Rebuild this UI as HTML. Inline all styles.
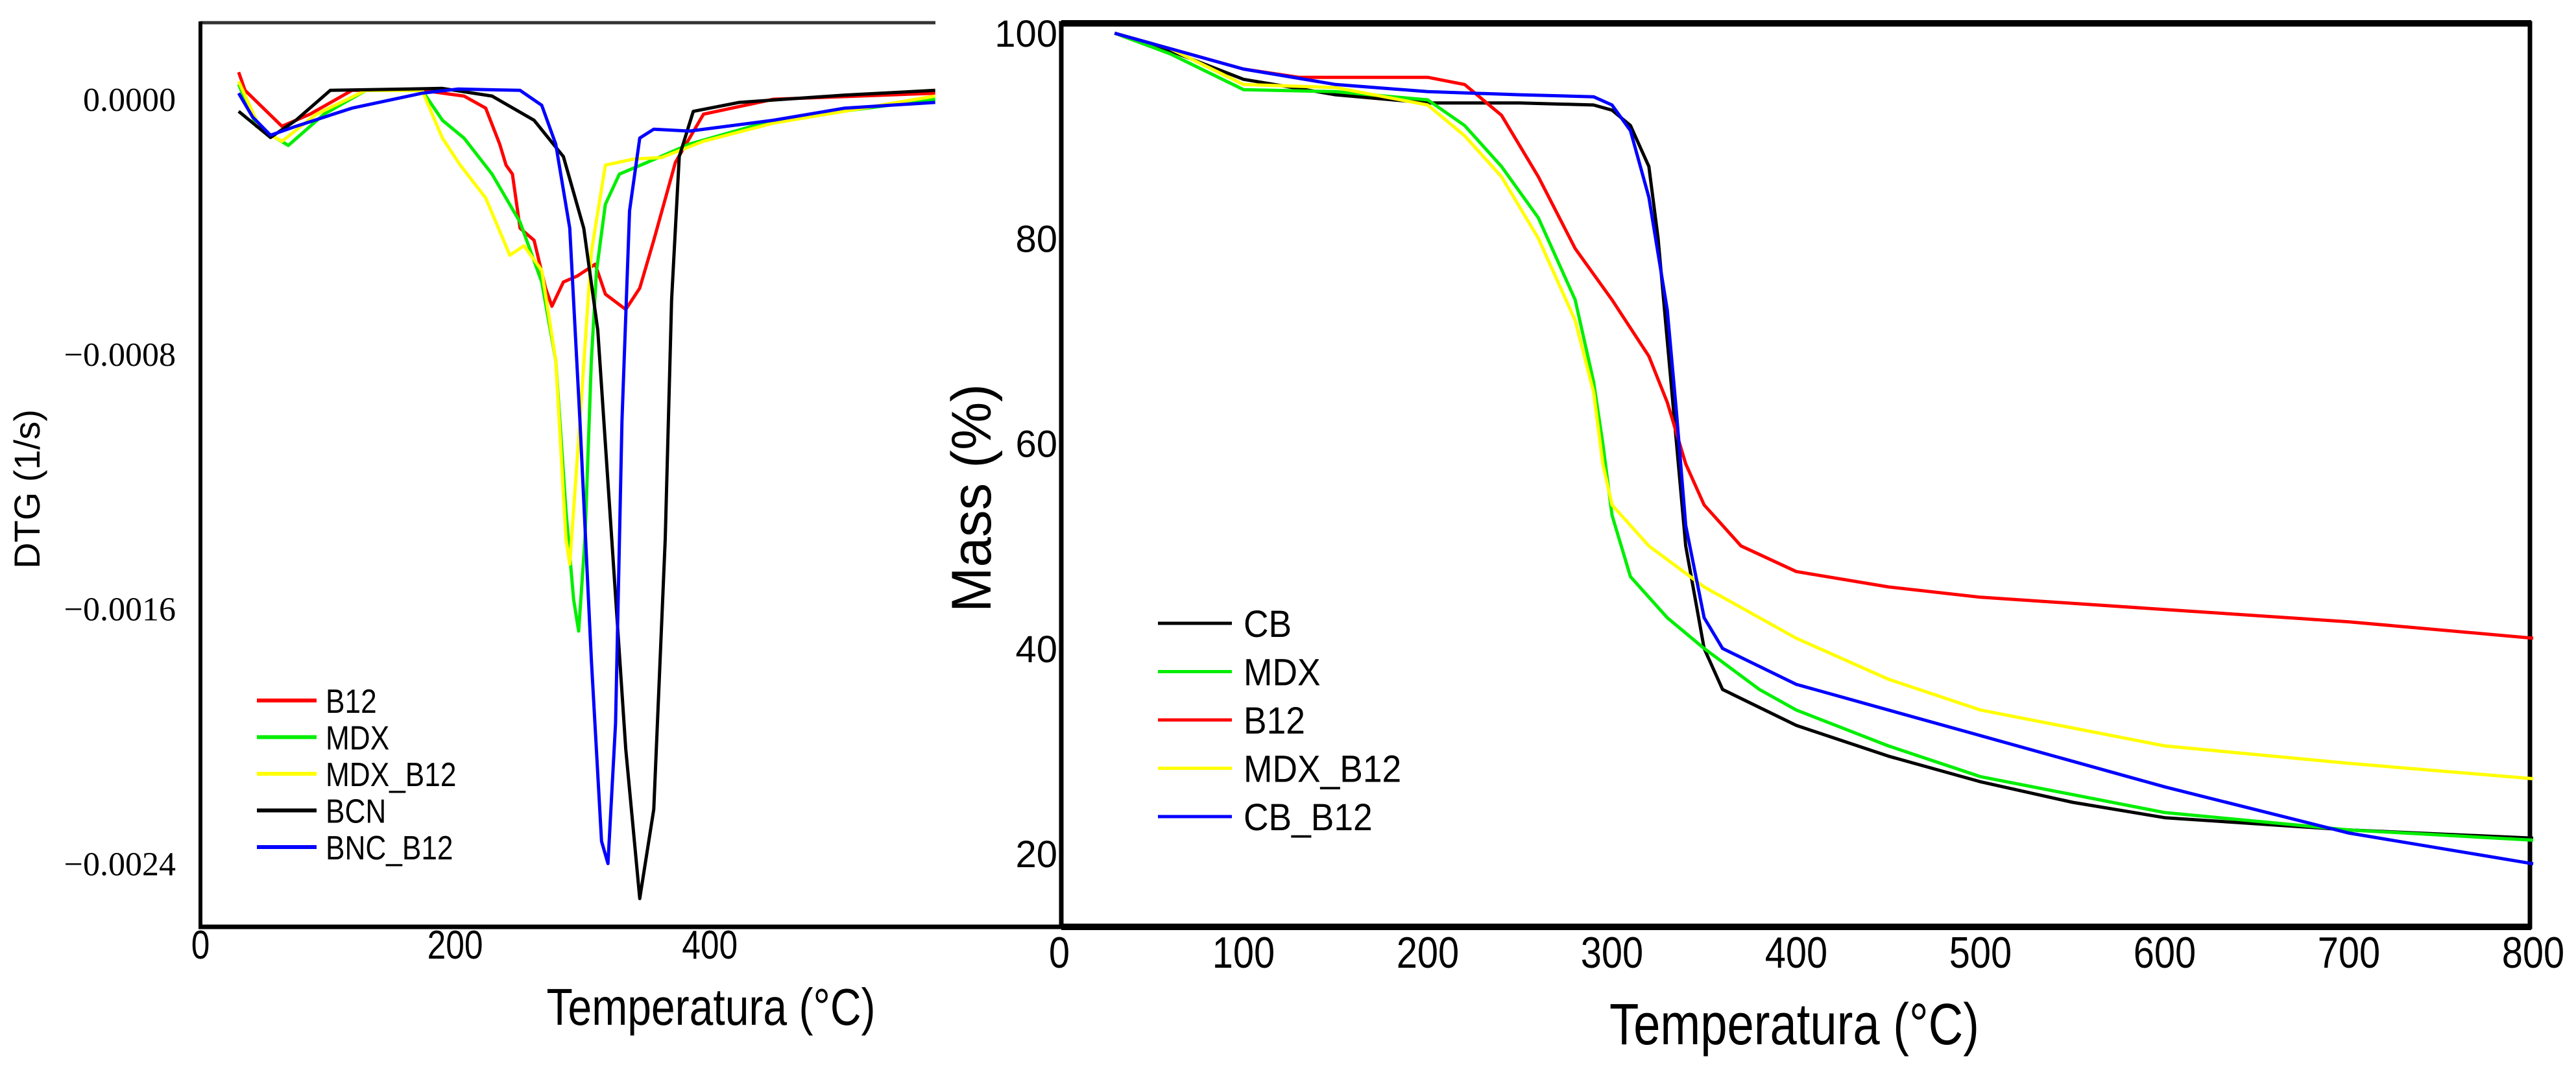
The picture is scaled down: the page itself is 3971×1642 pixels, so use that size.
<!DOCTYPE html>
<html><head><meta charset="utf-8"><style>
html,body{margin:0;padding:0;background:#fff;}
svg{display:block;}
text{font-family:"Liberation Sans",sans-serif;fill:#000;}
</style></head><body>
<svg id="chart" width="3971" height="1642" viewBox="0 0 3971 1642" xmlns="http://www.w3.org/2000/svg">
<rect x="0" y="0" width="3971" height="1642" fill="#fff"/>
<g id="left"></g>
<g id="right"></g>
</svg>
<script>
// ---------- DTG panel data (DTG values in units of 1e-4 1/s) ----------
const dtgTicksX = [0, 200, 400];
const dtgTicksY = [0, -8, -16, -24];
const dtgTickLabels = ["0.0000", "\u22120.0008", "\u22120.0016", "\u22120.0024"];
const dtgNames = ["B12", "MDX", "MDX_B12", "BCN", "BNC_B12"];
const dtgColors = ["#ff0000", "#00ee00", "#ffff00", "#000000", "#0000ff"];
const dtgB12T = [30,35,64,86,119,174,207,224,235,240,245,251,262,271,276,285,296,310,318,334,345,356,373,395,450,577];
const dtgB12V = [0.85,0.28,-0.85,-0.47,0.28,0.28,0.1,-0.28,-1.41,-2.07,-2.35,-4.05,-4.43,-5.93,-6.5,-5.74,-5.55,-5.18,-6.12,-6.6,-5.93,-4.43,-1.98,-0.47,0,0.19];
const dtgMdxT = [30,44,69,97,130,174,190,207,229,251,268,279,287,293,297,302,307,311,318,329,351,384,450,577];
const dtgMdxV = [0.47,-0.85,-1.45,-0.47,0.28,0.28,-0.66,-1.22,-2.35,-3.86,-5.74,-8.2,-12.9,-15.7,-16.7,-13.8,-8.2,-5.4,-3.3,-2.35,-1.98,-1.41,-0.66,0];
const dtgMdxB12T = [30,47,64,91,130,174,190,204,224,243,254,268,279,287,290,298,307,318,340,362,395,450,577];
const dtgMdxB12V = [0.56,-0.94,-1.32,-0.47,0.28,0.28,-1.22,-2.07,-3.1,-4.9,-4.6,-5.37,-8.2,-13.8,-14.6,-10.1,-4.8,-2.07,-1.88,-1.83,-1.32,-0.75,0.1];
const dtgBcnT = [30,55,75,102,190,229,262,285,301,312,323,334,345,356,365,370,376,387,423,506,577];
const dtgBcnV = [-0.38,-1.2,-0.66,0.28,0.34,0.1,-0.66,-1.8,-4.05,-7.25,-13.8,-20.4,-25.1,-22.3,-13.8,-6.3,-1.8,-0.38,-0.1,0.13,0.28];
const dtgBncB12T = [30,41,55,75,119,174,202,251,268,279,290,298,307,315,320,326,331,337,345,356,384,450,506,577];
const dtgBncB12V = [0.19,-0.56,-1.13,-0.85,-0.28,0.19,0.32,0.28,-0.19,-1.41,-4.05,-10.1,-17.6,-23.3,-24.0,-19.6,-10.1,-3.5,-1.22,-0.94,-1.0,-0.66,-0.28,-0.1];

// ---------- Mass panel data ----------
const massTicksX = [0,100,200,300,400,500,600,700,800];
const massTicksY = [20,40,60,80,100];
const massNames = ["CB","MDX","B12","MDX_B12","CB_B12"];
const massColors = ["#000000","#00ee00","#ff0000","#ffff00","#0000ff"];
const massCbT = [30,50,100,150,200,250,290,300,310,320,325,330,335,340,350,360,400,450,500,550,600,700,800];
const massCbV = [100,99,95.5,94,93.2,93.2,93,92.5,91,87,80,70,60,50,40,36,32.5,29.5,27,25,23.5,22.3,21.5];
const massMdxT = [30,60,100,150,200,220,240,260,280,290,295,300,310,330,350,380,400,450,500,600,700,800];
const massMdxV = [100,98,94.5,94.3,93.5,91,87,82,74,66,60,53,47,43,40,36,34,30.5,27.5,24,22.3,21.3];
const massB12T = [30,60,100,130,200,220,240,260,280,300,320,330,340,350,370,400,450,500,600,700,800];
const massB12V = [100,98.5,96.5,95.7,95.7,95,92,86,79,74,68.5,64,58,54,50,47.5,46,45,43.8,42.6,41];
const massMdxB12T = [30,60,100,150,200,220,240,260,280,290,295,300,320,350,400,450,500,600,700,800];
const massMdxB12V = [100,98.5,95,94.7,93,90,86,80,72,65,58,54,50,46,41,37,34,30.5,28.8,27.3];
const massCbB12T = [30,100,150,200,250,290,300,310,320,330,335,340,350,360,400,450,500,600,700,800];
const massCbB12V = [100,96.5,95,94.3,94,93.8,93,90.5,84,73,63,52,43,40,36.5,34,31.5,26.5,22,19];

const NS = "http://www.w3.org/2000/svg";
function mk(parent, tag, attrs, txt) {
  const e = document.createElementNS(NS, tag);
  for (const k in attrs) e.setAttribute(k, attrs[k]);
  if (txt !== undefined) e.textContent = txt;
  parent.appendChild(e);
  return e;
}
function squeeze(t, f) {
  const w = t.getComputedTextLength();
  t.setAttribute('textLength', (w * f).toFixed(1));
  t.setAttribute('lengthAdjust', 'spacingAndGlyphs');
}

// ---------- LEFT PANEL ----------
const L = document.getElementById('left');
const lx = t => 309 + t * 1.963;
const ly = v => 153 - v * 49.1;

let e;
e = mk(L, 'line', {x1:309, y1:35, x2:1442, y2:35, stroke:'#333', 'stroke-width':5});


e = mk(L, 'line', {x1:309, y1:33, x2:309, y2:1432, stroke:'#000', 'stroke-width':6});


e = mk(L, 'line', {x1:306, y1:1429, x2:1640, y2:1429, stroke:'#000', 'stroke-width':7});



dtgTicksX.forEach(t => {
  const tx = mk(L, 'text', {x: lx(t), y: 1478, 'font-size': 62, 'text-anchor': 'middle'}, String(t));
  
  
  squeeze(tx, 0.83);
});
dtgTicksY.forEach((v, i) => {
  const tx = mk(L, 'text', {x: 271, y: ly(v) + 18, 'font-size': 52, 'text-anchor': 'end', style: 'font-family:"Liberation Serif",serif'}, dtgTickLabels[i]);
  
  
});
e = mk(L, 'text', {x: 1096, y: 1580, 'font-size': 80, 'text-anchor': 'middle'}, 'Temperatura (°C)');


e.setAttribute('textLength', '507');
e.setAttribute('lengthAdjust', 'spacingAndGlyphs');
e = mk(L, 'text', {x: 0, y: 0, 'font-size': 56, 'text-anchor': 'middle', transform: 'translate(61,754) rotate(-90)'}, 'DTG (1/s)');



const dtgSeriesT = [dtgB12T, dtgMdxT, dtgMdxB12T, dtgBcnT, dtgBncB12T];
const dtgSeriesV = [dtgB12V, dtgMdxV, dtgMdxB12V, dtgBcnV, dtgBncB12V];
dtgSeriesT.forEach((ts, i) => {
  const d = ts.map((t, j) => (j ? 'L' : 'M') + lx(t).toFixed(1) + ' ' + ly(dtgSeriesV[i][j]).toFixed(1)).join(' ');
  const p = mk(L, 'path', {d: d, fill: 'none', stroke: dtgColors[i], 'stroke-width': 5, 'stroke-linejoin': 'round'});
  
  
});
dtgNames.forEach((n, i) => {
  const y = 1080 + i * 56.5;
  const g = mk(L, 'g', {});
  
  
  mk(g, 'line', {x1: 396, y1: y, x2: 488, y2: y, stroke: dtgColors[i], 'stroke-width': 6});
  const tx = mk(g, 'text', {x: 502, y: y + 19, 'font-size': 52}, n);
  squeeze(tx, 0.85);
});

// ---------- RIGHT PANEL ----------
const R = document.getElementById('right');
const rx = t => 1633 + t * 2.84;
const ry = m => 1316 - (m - 20) * 15.81;

e = mk(R, 'rect', {x: 1636, y: 36, width: 2264, height: 1393, fill: 'none', stroke: '#000', 'stroke-width': 7});


e = mk(R, 'line', {x1: 1636, y1: 36, x2: 3902, y2: 36, stroke: '#000', 'stroke-width': 10});


e = mk(R, 'line', {x1: 1636, y1: 1429, x2: 3902, y2: 1429, stroke: '#000', 'stroke-width': 10});



massTicksX.forEach(t => {
  const tx = mk(R, 'text', {x: rx(t), y: 1492, 'font-size': 68, 'text-anchor': 'middle'}, String(t));
  
  
  squeeze(tx, 0.85);
});
massTicksY.forEach(m => {
  const tx = mk(R, 'text', {x: 1630, y: ry(m) + 21, 'font-size': 58, 'text-anchor': 'end'}, String(m));
  
  
});
e = mk(R, 'text', {x: 2766, y: 1610, 'font-size': 90, 'text-anchor': 'middle'}, 'Temperatura (°C)');


e.setAttribute('textLength', '570');
e.setAttribute('lengthAdjust', 'spacingAndGlyphs');
e = mk(R, 'text', {x: 0, y: 0, 'font-size': 86, 'text-anchor': 'middle', transform: 'translate(1527,768) rotate(-90)'}, 'Mass (%)');


e.setAttribute('textLength', '352');
e.setAttribute('lengthAdjust', 'spacingAndGlyphs');

const massSeriesT = [massCbT, massMdxT, massB12T, massMdxB12T, massCbB12T];
const massSeriesV = [massCbV, massMdxV, massB12V, massMdxB12V, massCbB12V];
massSeriesT.forEach((ts, i) => {
  const d = ts.map((t, j) => (j ? 'L' : 'M') + rx(t).toFixed(1) + ' ' + ry(massSeriesV[i][j]).toFixed(1)).join(' ');
  const p = mk(R, 'path', {d: d, fill: 'none', stroke: massColors[i], 'stroke-width': 5, 'stroke-linejoin': 'round'});
  
  
});
massNames.forEach((n, i) => {
  const y = 961 + i * 74.5;
  const g = mk(R, 'g', {});
  
  
  mk(g, 'line', {x1: 1785, y1: y, x2: 1899, y2: y, stroke: massColors[i], 'stroke-width': 5});
  const tx = mk(g, 'text', {x: 1917, y: y + 21, 'font-size': 58}, n);
  squeeze(tx, 0.92);
});
</script>
</body></html>
